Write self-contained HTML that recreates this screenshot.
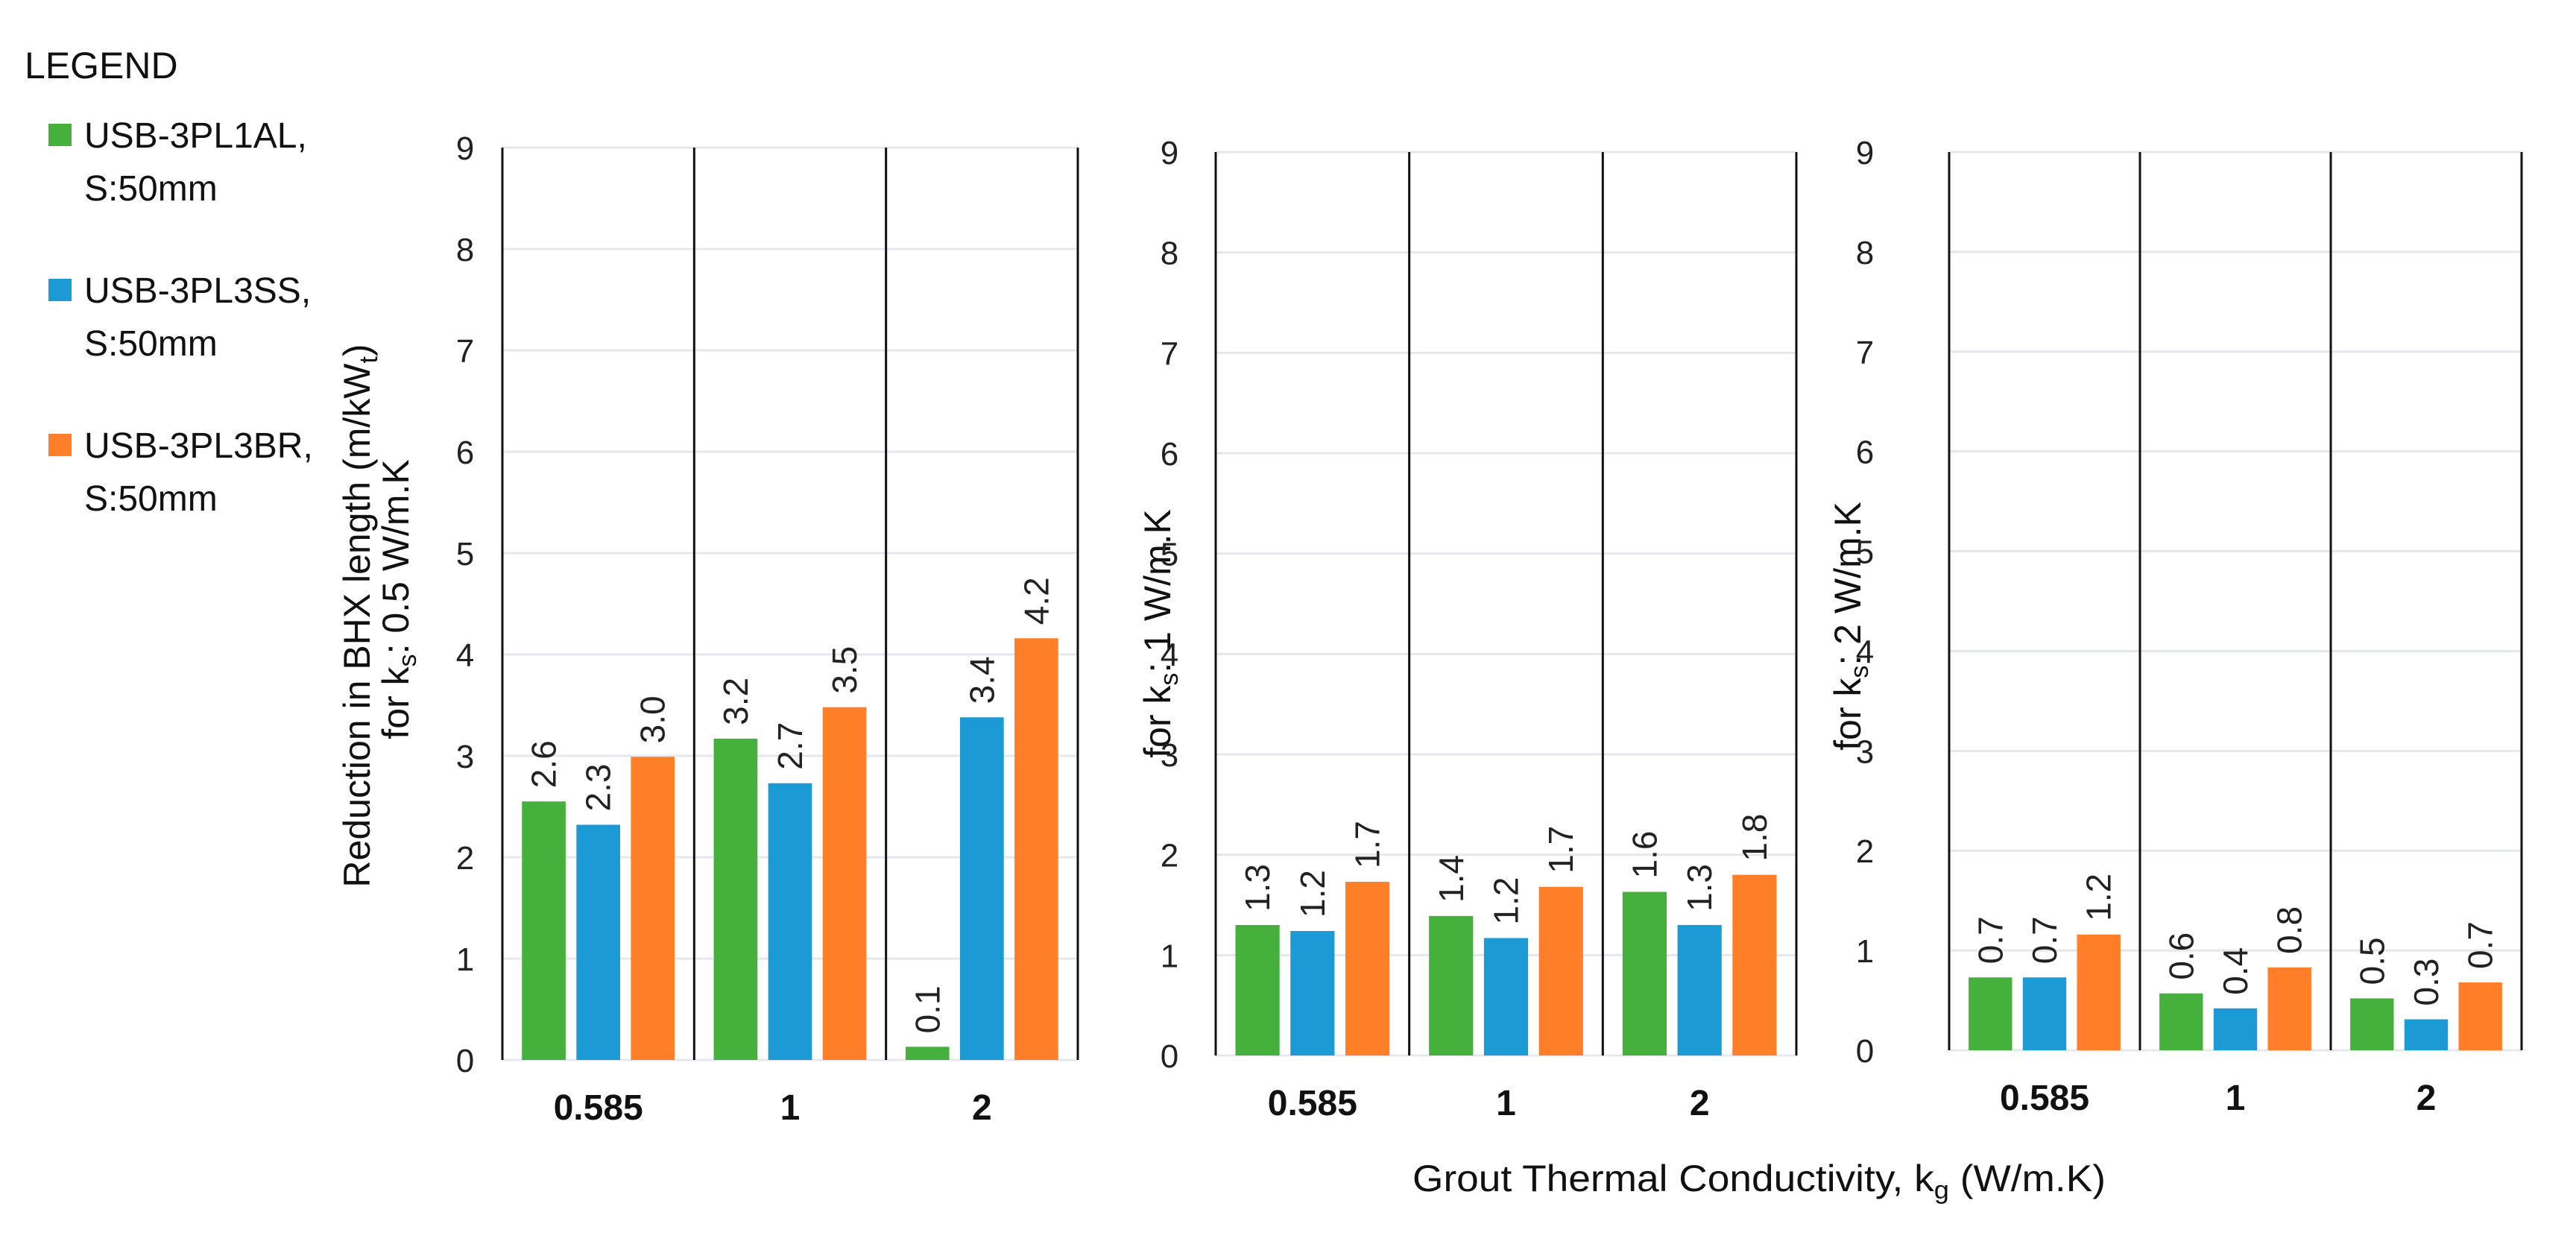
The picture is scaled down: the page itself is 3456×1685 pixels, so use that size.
<!DOCTYPE html>
<html><head><meta charset="utf-8"><style>
html,body{margin:0;padding:0;background:#fff;}
svg{display:block;font-family:"Liberation Sans",sans-serif;}
</style></head><body>
<svg id="chart" width="3456" height="1685" viewBox="0 0 3456 1685" xmlns="http://www.w3.org/2000/svg">
<rect width="3456" height="1685" fill="#fff"/>
<g>
<text x="33" y="105" font-size="50" fill="#111">LEGEND</text>
<rect x="65" y="166" width="31" height="30" fill="#45b03c"/>
<text x="113" y="198" font-size="48" fill="#111">USB-3PL1AL,<tspan x="113" y="269">S:50mm</tspan></text>
<rect x="65" y="374" width="31" height="30" fill="#1b9ad6"/>
<text x="113" y="406" font-size="48" fill="#111">USB-3PL3SS,<tspan x="113" y="477">S:50mm</tspan></text>
<rect x="65" y="582" width="31" height="30" fill="#fe7f27"/>
<text x="113" y="614" font-size="48" fill="#111">USB-3PL3BR,<tspan x="113" y="685">S:50mm</tspan></text>
</g>
<text transform="translate(496,826) rotate(-90)" text-anchor="middle" font-size="50" fill="#111">Reduction in BHX length  (m/kW<tspan font-size="34" dy="10">t</tspan><tspan dy="-10">)</tspan></text>
<text transform="translate(548,804) rotate(-90)" text-anchor="middle" font-size="50" fill="#111">for k<tspan font-size="34" dy="10">s</tspan><tspan dy="-10">: 0.5  W/m.K</tspan></text>
<text transform="translate(1570,850) rotate(-90)" text-anchor="middle" font-size="50" fill="#111">for k<tspan font-size="34" dy="10">s</tspan><tspan dy="-10">: 1 W/m.K</tspan></text>
<text transform="translate(2496,840) rotate(-90)" text-anchor="middle" font-size="50" fill="#111">for k<tspan font-size="34" dy="10">s</tspan><tspan dy="-10">: 2 W/m.K</tspan></text>
<text x="2360" y="1598" text-anchor="middle" font-size="50" fill="#111" textLength="930" lengthAdjust="spacingAndGlyphs">Grout Thermal Conductivity,  k<tspan font-size="34" dy="10">g</tspan><tspan dy="-10"> (W/m.K)</tspan></text>
<g id="plots"></g>
</svg>
<script>
const categories = ["0.585", "1", "2"];
const seriesNames = ["USB-3PL1AL", "USB-3PL3SS", "USB-3PL3BR"];
const yTicks = [0, 1, 2, 3, 4, 5, 6, 7, 8, 9];
const p1Green = [2.55, 3.17, 0.13];
const p1Blue = [2.32, 2.73, 3.38];
const p1Orange = [2.99, 3.48, 4.16];
const p1Labels = [["2.6", "3.2", "0.1"], ["2.3", "2.7", "3.4"], ["3.0", "3.5", "4.2"]];
const p2Green = [1.30, 1.39, 1.63];
const p2Blue = [1.24, 1.17, 1.30];
const p2Orange = [1.73, 1.68, 1.80];
const p2Labels = [["1.3", "1.4", "1.6"], ["1.2", "1.2", "1.3"], ["1.7", "1.7", "1.8"]];
const p3Green = [0.73, 0.57, 0.52];
const p3Blue = [0.73, 0.42, 0.31];
const p3Orange = [1.16, 0.83, 0.68];
const p3Labels = [["0.7", "0.6", "0.5"], ["0.7", "0.4", "0.3"], ["1.2", "0.8", "0.7"]];

const colors = ["#45b03c", "#1b9ad6", "#fe7f27"];
const NS = "http://www.w3.org/2000/svg";
const root = document.getElementById("plots");
function mk(tag, attrs, parent) {
  const e = document.createElementNS(NS, tag);
  for (const k in attrs) e.setAttribute(k, attrs[k]);
  parent.appendChild(e);
  return e;
}
const panels = [
  {left: 674, right: 1446, top: 198, bottom: 1422, tickX: 624, series: [p1Green, p1Blue, p1Orange], labels: p1Labels},
  {left: 1631, right: 2410, top: 204, bottom: 1416, tickX: 1569, series: [p2Green, p2Blue, p2Orange], labels: p2Labels},
  {left: 2615, right: 3383, top: 204, bottom: 1409, tickX: 2502, series: [p3Green, p3Blue, p3Orange], labels: p3Labels}
];
panels.forEach((p, pi) => {
  const g = mk("g", {}, root);
  
  
  const yMax = yTicks[yTicks.length - 1];
  const y = v => p.bottom - (v / yMax) * (p.bottom - p.top);
  const gw = (p.right - p.left) / categories.length;
  const xGroup = i => p.left + i * gw;
  yTicks.forEach(t => {
    const gl = mk("line", {x1: p.left, x2: p.right, y1: y(t), y2: y(t), stroke: "#e4e8ee", "stroke-width": 3}, g);
    
    
    const tl = mk("text", {x: p.tickX, y: y(t) + 16, "text-anchor": "middle", "font-size": 44, fill: "#222"}, g);
    tl.textContent = t;
    
    
  });
  for (let i = 0; i <= categories.length; i++) {
    const vl = mk("line", {x1: xGroup(i), x2: xGroup(i), y1: p.top, y2: p.bottom, stroke: "#111", "stroke-width": 3}, g);
    
    
  }
  categories.forEach((c, ci) => {
    const cl = mk("text", {x: xGroup(ci) + gw / 2, y: p.bottom + 80, "text-anchor": "middle", "font-size": 48, "font-weight": "bold", fill: "#111"}, g);
    cl.textContent = c;
    
    
    const bw = gw * 0.228, gap = gw * 0.056;
    const start = xGroup(ci) + (gw - (3 * bw + 2 * gap)) / 2;
    p.series.forEach((s, si) => {
      const v = s[ci];
      const bx = start + si * (bw + gap);
      const r = mk("rect", {x: bx, y: y(v), width: bw, height: p.bottom - y(v), fill: colors[si]}, g);
      
      
      const lx = bx + bw / 2 + 16, ly = y(v) - 18;
      const t = mk("text", {transform: "translate(" + lx + "," + ly + ") rotate(-90)", "font-size": 46, fill: "#222"}, g);
      t.textContent = p.labels[si][ci];
      
      
    });
  });
});
</script>
</body></html>
